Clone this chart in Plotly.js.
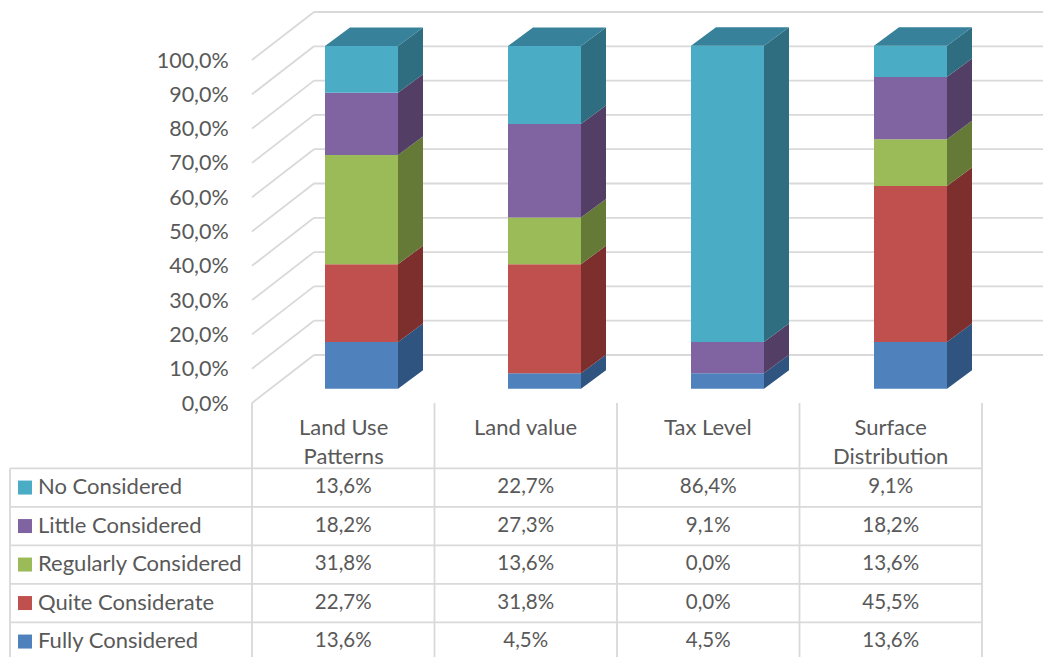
<!DOCTYPE html>
<html>
<head>
<meta charset="utf-8">
<script src="https://cdn.plot.ly/plotly-3.0.1.min.js"></script>
<style>html,body{margin:0;padding:0;background:#fff;overflow:hidden}#chart{width:1043px;height:657px}</style>
</head>
<body>
<div id="chart"></div>
<script>
// Survey results per planning criterion, bottom of the stack first.
const categories = ["Land Use<br>Patterns", "Land value", "Tax Level", "Surface<br>Distribution"];
const seriesNames = ["Fully Considered", "Quite Considerate", "Regularly Considered", "Little Considered", "No Considered"];
const fullyConsidered = [13.6, 4.5, 4.5, 13.6];
const quiteConsiderate = [22.7, 31.8, 0.0, 45.5];
const regularlyConsidered = [31.8, 13.6, 0.0, 13.6];
const littleConsidered = [18.2, 27.3, 9.1, 18.2];
const noConsidered = [13.6, 22.7, 86.4, 9.1];
const seriesValues = [fullyConsidered, quiteConsiderate, regularlyConsidered, littleConsidered, noConsidered];
const percentTicks = [0, 10, 20, 30, 40, 50, 60, 70, 80, 90, 100];

const frontColors = ["#4F81BD", "#C0504D", "#9BBB59", "#8064A2", "#4BACC6"];
const sideColors = ["#2F5480", "#7D2F2D", "#647A36", "#533E66", "#2F6E80"];
const topColor = "#37829A";
const gridColor = "#D9D9D9";
const textColor = "#595959";
const fontFamily = "Lato, 'Open Sans', sans-serif";

// Axis scales: one x unit is a table column, one y unit is a percentage point.
const W = 1043, H = 657;
const columnPx = 182.5, wallLeftPx = 252, zeroPx = 403, percentPx = 3.43;
const pxX = p => (p - wallLeftPx) / columnPx;
const pxY = p => (zeroPx - p) / percentPx;
const lenX = p => p / columnPx;
const lenY = p => p / percentPx;

// Oblique projection offsets for the walls and the columns.
const wallDX = lenX(62), wallDY = lenY(48);
const barLift = lenY(14.3), barDX = lenX(25), barDY = lenY(18.5);
const barLeft = 0.4, barWidth = 0.4, barStep = lenX(183);
const barStart = i => barLeft + i * barStep;

const fmt = v => v.toFixed(1).replace(".", ",") + "%";

const shapes = [];
const line = (x0, y0, x1, y1) => shapes.push({
  type: "line", layer: "below", xref: "x", yref: "y", x0, y0, x1, y1,
  line: {color: gridColor, width: 1.8}
});

// Side wall and back wall gridlines, one pair per tick.
percentTicks.forEach(t => {
  line(0, t, wallDX, t + wallDY);
  line(wallDX, t + wallDY, pxX(W), t + wallDY);
});

// Data table rules.
const rowTop = 468.3, rowPx = 38.5;
for (let c = 0; c <= categories.length; c++) line(c, pxY(zeroPx), c, pxY(H));
line(pxX(10), pxY(rowTop), pxX(10), pxY(H));
for (let r = 0; r <= seriesNames.length; r++) {
  line(pxX(10), pxY(rowTop + r * rowPx), categories.length, pxY(rowTop + r * rowPx));
}

const traces = [];
const running = categories.map(() => barLift);

seriesValues.forEach((values, s) => {
  const base = running.slice();
  const xs = categories.map((_, i) => barStart(i) + barWidth / 2);

  // Front faces.
  traces.push({
    type: "bar", x: xs, y: values, base: base, width: barWidth,
    name: seriesNames[s], showlegend: false, hoverinfo: "name+text",
    hovertext: values.map(fmt),
    marker: {color: frontColors[s], line: {width: 0}}
  });

  // Right-hand side faces, built from the same stacked values.
  const sx = [], sy = [];
  values.forEach((v, i) => {
    const xr = barStart(i) + barWidth, b = base[i], t = b + v;
    sx.push(xr, xr + barDX, xr + barDX, xr, xr, null);
    sy.push(b, b + barDY, t + barDY, t, b, null);
    running[i] = t;
  });
  traces.push({
    type: "scatter", mode: "lines", x: sx, y: sy, fill: "toself",
    fillcolor: sideColors[s], line: {width: 0}, hoverinfo: "skip", showlegend: false
  });
});

// Top caps of the columns.
const capX = [], capY = [];
running.forEach((t, i) => {
  const xl = barStart(i), xr = xl + barWidth;
  capX.push(xl, xl + barDX, xr + barDX, xr, xl, null);
  capY.push(t, t + barDY, t + barDY, t, t, null);
});
traces.push({
  type: "scatter", mode: "lines", x: capX, y: capY, fill: "toself",
  fillcolor: topColor, line: {width: 0}, hoverinfo: "skip", showlegend: false
});

const labelFont = {family: fontFamily, size: 22, color: textColor};
const valueFont = {family: fontFamily, size: 20.5, color: textColor};

// Table rows: top row is the last series, each with its key and values.
seriesNames.forEach((name, s) => {
  const row = seriesNames.length - 1 - s;
  const rowY = pxY(rowTop + (row + 0.5) * rowPx + 0.8);
  traces.push({
    type: "scatter", mode: "text", x: categories.map((_, i) => i + 0.5),
    y: categories.map(() => rowY), text: seriesValues[s].map(fmt),
    textposition: "middle center", textfont: valueFont,
    hoverinfo: "skip", showlegend: false, cliponaxis: false
  });
  traces.push({
    type: "scatter", mode: "markers", x: [pxX(25)], y: [pxY(rowTop + (row + 0.5) * rowPx)],
    marker: {symbol: "square", size: 14, color: frontColors[s], line: {width: 0}},
    hoverinfo: "skip", showlegend: false, cliponaxis: false
  });
});

const annotations = [];
seriesNames.forEach((name, s) => {
  const row = seriesNames.length - 1 - s;
  annotations.push({
    xref: "x", yref: "y", x: pxX(37), y: pxY(rowTop + (row + 0.5) * rowPx - 2),
    xanchor: "left", yanchor: "middle", text: name, showarrow: false,
    font: labelFont, borderpad: 0
  });
});
categories.forEach((name, i) => {
  annotations.push({
    xref: "x", yref: "y", x: i + 0.5, y: pxY(412),
    xanchor: "center", yanchor: "top", align: "center", text: name, showarrow: false,
    font: labelFont, borderpad: 0
  });
});

const layout = {
  width: W, height: H, autosize: false,
  margin: {l: 0, r: 0, t: 0, b: 0, pad: 0},
  paper_bgcolor: "#fff", plot_bgcolor: "#fff",
  barmode: "overlay", showlegend: false,
  shapes, annotations,
  xaxis: {range: [pxX(0), pxX(W)], visible: false, fixedrange: true},
  yaxis: {
    range: [pxY(H), pxY(0)], anchor: "free", position: 250 / W, side: "left",
    tickvals: percentTicks, ticktext: percentTicks.map(fmt),
    ticks: "outside", ticklen: 17, tickcolor: "rgba(0,0,0,0)",
    showgrid: false, zeroline: false, showline: false, fixedrange: true,
    tickfont: {family: fontFamily, size: 21.5, color: textColor}
  }
};

Plotly.newPlot("chart", traces, layout, {displayModeBar: false, staticPlot: true});
</script>
</body>
</html>
